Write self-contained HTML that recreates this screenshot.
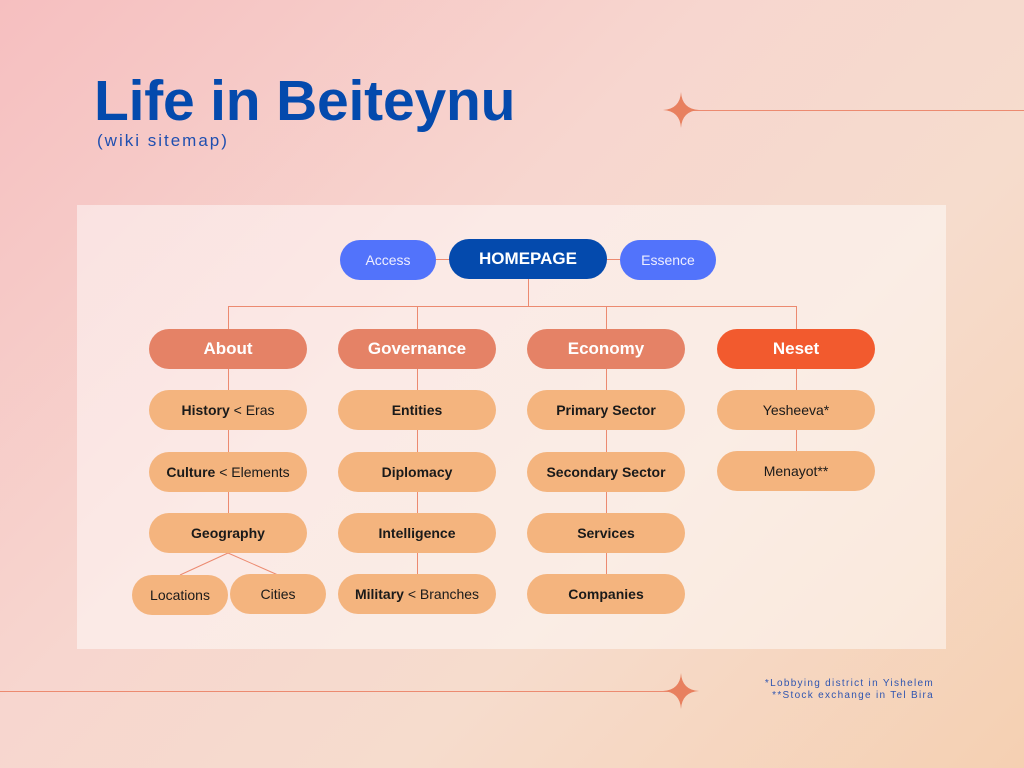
<!DOCTYPE html>
<html><head><style>
body{margin:0;width:1024px;height:768px;overflow:hidden;position:relative;font-family:"Liberation Sans",sans-serif;
background:linear-gradient(135deg,#f6bfc0 0%,#f7d6cf 40%,#f6dccd 65%,#f5d0b2 100%);}
.panel{position:absolute;left:77px;top:205px;width:869px;height:444px;background:rgba(255,255,255,0.48);}
.b{position:absolute;width:158px;height:40px;border-radius:20px;display:flex;align-items:center;justify-content:center;font-size:14px;color:#1a1a1a;background:#f4b47e;}
.h{background:#e58266;color:#fff;font-size:17px;font-weight:bold;}
.l{position:absolute;background:#ec8a70;}
</style></head><body>
<div class="panel"></div>
<div style="position:absolute;left:94px;top:68px;font-size:57px;font-weight:bold;color:#044aad;letter-spacing:-0.2px">Life in Beiteynu</div>
<div style="position:absolute;left:97px;top:131px;font-size:17px;color:#1f4fb0;letter-spacing:2px">(wiki sitemap)</div>
<div class="l" style="left:681px;top:110px;width:343px;height:1px"></div>
<div class="l" style="left:0;top:691px;width:681px;height:1px"></div>
<svg style="position:absolute;left:663px;top:92px" width="36" height="36" viewBox="-18 -18 36 36"><path d="M0-18Q1-1 18 0Q1 1 0 18Q-1 1-18 0Q-1-1 0-18Z" fill="#e8805f"/></svg>
<svg style="position:absolute;left:663px;top:673px" width="36" height="36" viewBox="-18 -18 36 36"><path d="M0-18Q1-1 18 0Q1 1 0 18Q-1 1-18 0Q-1-1 0-18Z" fill="#e8805f"/></svg>
<div style="position:absolute;right:90px;top:678px;font-size:10px;color:#2f55b0;letter-spacing:1.3px;text-align:right;line-height:12px">*Lobbying district in Yishelem<br>**Stock exchange in Tel Bira</div>
<div class="l" style="left:436px;top:259px;width:184px;height:1px"></div>
<div class="l" style="left:528px;top:279px;width:1px;height:27px"></div>
<div class="l" style="left:228px;top:306px;width:569px;height:1px"></div>
<div class="l" style="left:228px;top:306px;width:1px;height:228px"></div>
<div class="l" style="left:417px;top:306px;width:1px;height:288px"></div>
<div class="l" style="left:606px;top:306px;width:1px;height:288px"></div>
<div class="l" style="left:796px;top:306px;width:1px;height:165px"></div>
<svg style="position:absolute;left:0;top:0" width="1024" height="768"><path d="M228 553L180 575M228 553L278 575" stroke="#ec8a70" stroke-width="1"/></svg>
<div class="b" style="left:340px;top:240px;width:96px;background:#5273fb;color:#eef;font-size:14px">Access</div>
<div class="b" style="left:449px;top:239px;background:#044aad;color:#fff;font-size:17px;font-weight:bold">HOMEPAGE</div>
<div class="b" style="left:620px;top:240px;width:96px;background:#5273fb;color:#eef;font-size:14px">Essence</div>
<div class="b h" style="left:149px;top:329px">About</div>
<div class="b h" style="left:338px;top:329px">Governance</div>
<div class="b h" style="left:527px;top:329px">Economy</div>
<div class="b h" style="left:717px;top:329px;background:#f25a2e">Neset</div>
<div class="b" style="left:149px;top:390px"><b>History</b>&nbsp;&lt; Eras</div>
<div class="b" style="left:149px;top:452px"><b>Culture</b>&nbsp;&lt; Elements</div>
<div class="b" style="left:149px;top:513px"><b>Geography</b></div>
<div class="b" style="left:132px;top:575px;width:96px">Locations</div>
<div class="b" style="left:230px;top:574px;width:96px">Cities</div>
<div class="b" style="left:338px;top:390px"><b>Entities</b></div>
<div class="b" style="left:338px;top:452px"><b>Diplomacy</b></div>
<div class="b" style="left:338px;top:513px"><b>Intelligence</b></div>
<div class="b" style="left:338px;top:574px"><b>Military</b>&nbsp;&lt; Branches</div>
<div class="b" style="left:527px;top:390px"><b>Primary Sector</b></div>
<div class="b" style="left:527px;top:452px"><b>Secondary Sector</b></div>
<div class="b" style="left:527px;top:513px"><b>Services</b></div>
<div class="b" style="left:527px;top:574px"><b>Companies</b></div>
<div class="b" style="left:717px;top:390px">Yesheeva*</div>
<div class="b" style="left:717px;top:451px">Menayot**</div>
</body></html>
